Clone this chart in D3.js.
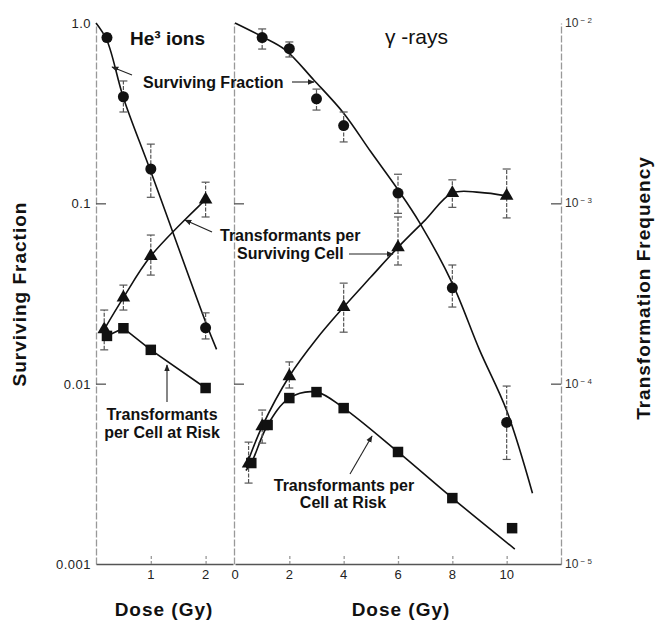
<!DOCTYPE html>
<html>
<head>
<meta charset="utf-8">
<script src="https://cdn.jsdelivr.net/npm/d3@7"></script>
<style>
body { margin: 0; background: #fff; }
svg { display: block; font-family: 'Liberation Sans', Arial, Helvetica, sans-serif; }
</style>
</head>
<body>
<svg></svg>
<script>
const width = 656;
const height = 620;

// He3 ions: surviving fraction
const heSfDose = [0.2, 0.5, 1, 2];
const heSf = [0.83, 0.39, 0.155, 0.0204];
const heSfLo = [0.79, 0.321, 0.108, 0.0177];
const heSfHi = [0.87, 0.477, 0.213, 0.0247];
const heSfFitDose = [0, 0.2, 0.5, 1, 2, 2.2];
const heSfFit = [1.0, 0.8, 0.385, 0.15, 0.022, 0.0155];

// He3 ions: transformants per surviving cell
const heTriDose = [0.15, 0.5, 1, 2];
const heTri = [2.0e-4, 3.0e-4, 5.1e-4, 1.05e-3];
const heTriLo = [1.54e-4, 2.56e-4, 4.0e-4, 8.4e-4];
const heTriHi = [2.56e-4, 3.52e-4, 6.67e-4, 1.31e-3];

// He3 ions: transformants per cell at risk
const heSqDose = [0.2, 0.5, 1, 2];
const heSq = [1.84e-4, 2.03e-4, 1.54e-4, 9.46e-5];

// gamma rays: surviving fraction
const gSfDose = [1, 2, 3, 4, 6, 8, 10];
const gSf = [0.83, 0.72, 0.38, 0.27, 0.114, 0.034, 0.0061];
const gSfLo = [0.717, 0.648, 0.329, 0.219, 0.088, 0.0266, 0.0038];
const gSfHi = [0.927, 0.785, 0.43, 0.321, 0.145, 0.0455, 0.0097];
const gSfFitDose = [0, 1, 1.85, 2.9, 4, 5, 6, 6.8, 8, 9, 10, 10.95];
const gSfFit = [1.0, 0.84, 0.71, 0.483, 0.316, 0.193, 0.119, 0.078, 0.036, 0.0154, 0.0071, 0.00247];

// gamma rays: transformants per surviving cell
const gTriDose = [0.5, 1, 2, 4, 6, 8, 10];
const gTri = [3.6e-5, 5.8e-5, 1.1e-4, 2.66e-4, 5.7e-4, 1.14e-3, 1.1e-3];
const gTriLo = [2.81e-5, 4.68e-5, 9.46e-5, 1.93e-4, 4.55e-4, 9.5e-4, 8.3e-4];
const gTriHi = [4.74e-5, 7.14e-5, 1.32e-4, 3.61e-4, 8.4e-4, 1.35e-3, 1.55e-3];
const gTriFitDose = [0.4, 1, 2, 3, 4, 5, 6, 7, 8, 9, 10];
const gTriFit = [3.45e-5, 5.8e-5, 1.1e-4, 1.77e-4, 2.66e-4, 3.9e-4, 5.7e-4, 8.07e-4, 1.14e-3, 1.15e-3, 1.1e-3];

// gamma rays: transformants per cell at risk
const gSqDose = [0.6, 1.2, 2, 3, 4, 6, 8, 10.2];
const gSq = [3.63e-5, 5.9e-5, 8.32e-5, 8.98e-5, 7.32e-5, 4.18e-5, 2.32e-5, 1.58e-5];
const gSqFitDose = [0.4, 0.6, 1.2, 2, 3, 4, 6, 8, 10.3];
const gSqFit = [3.3e-5, 3.63e-5, 5.9e-5, 8.32e-5, 8.98e-5, 7.32e-5, 4.18e-5, 2.32e-5, 1.21e-5];

// ticks
const sfTicks = [1, 0.1, 0.01, 0.001];
const sfTickLabels = ["1.0", "0.1", "0.01", "0.001"];
const tfTicks = [1e-2, 1e-3, 1e-4, 1e-5];
const tfTickExp = ["2", "3", "4", "5"];
const heDoseTicks = [1, 2];
const gDoseTicks = [0, 2, 4, 6, 8, 10];

const plotTop = 23, plotBottom = 564;

const xHe = d3.scaleLinear().domain([0, 2.5]).range([96, 233]);
const xG = d3.scaleLinear().domain([0, 12]).range([235, 561]);
const ySf = d3.scaleLog().domain([0.001, 1]).range([plotBottom, plotTop]);
const yTf = d3.scaleLog().domain([1e-5, 1e-2]).range([plotBottom, plotTop]);

const svg = d3.select('svg')
  .attr('width', width)
  .attr('height', height);

svg.append('defs').append('marker')
  .attr('id', 'arrow')
  .attr('viewBox', '0 0 10 10')
  .attr('refX', 9).attr('refY', 5)
  .attr('markerWidth', 7).attr('markerHeight', 7)
  .attr('markerUnits', 'userSpaceOnUse')
  .attr('orient', 'auto')
  .append('path')
    .attr('d', 'M0,1 L10,5 L0,9 Z')
    .attr('fill', '#222');

// axes
function styleAxis(g, dashed) {
  g.select('.domain')
    .attr('stroke', dashed ? '#999' : '#555')
    .attr('stroke-width', dashed ? 1.3 : 1.6)
    .attr('stroke-dasharray', dashed ? '7,2' : null);
  g.selectAll('.tick line').attr('stroke', '#555').attr('stroke-width', 1.3);
  g.selectAll('.tick text').remove();
}

svg.append('g')
  .attr('transform', 'translate(96,0)')
  .call(d3.axisRight(ySf).tickValues([0.1, 0.01]).tickSize(10).tickSizeOuter(0).tickFormat(''))
  .call(g => styleAxis(g, true));

svg.append('g')
  .attr('transform', 'translate(234,0)')
  .call(d3.axisRight(ySf).tickValues([0.1, 0.01]).tickSize(10).tickSizeOuter(0).tickFormat(''))
  .call(g => styleAxis(g, true));

svg.append('g')
  .attr('transform', 'translate(561,0)')
  .call(d3.axisLeft(yTf).tickValues([1e-3, 1e-4]).tickSize(10).tickSizeOuter(0).tickFormat(''))
  .call(g => styleAxis(g, true));

svg.append('g')
  .attr('transform', `translate(0,${plotBottom})`)
  .call(d3.axisTop(xHe).tickValues(heDoseTicks).tickSize(10).tickSizeOuter(0).tickFormat(''))
  .call(g => styleAxis(g, false))
  .call(g => g.selectAll('.tick line').attr('stroke', '#999').attr('stroke-dasharray', '3,2'));

svg.append('g')
  .attr('transform', `translate(0,${plotBottom})`)
  .call(d3.axisTop(xG).tickValues(gDoseTicks.slice(1)).tickSize(10).tickSizeOuter(0).tickFormat(''))
  .call(g => styleAxis(g, false))
  .call(g => g.selectAll('.tick line').attr('stroke', '#999').attr('stroke-dasharray', '3,2'));

// tick labels
svg.append('g').selectAll('text')
  .data(sfTicks)
  .enter().append('text')
    .attr('x', 91)
    .attr('y', d => ySf(d) + 5)
    .attr('text-anchor', 'end')
    .attr('font-size', 13)
    .attr('letter-spacing', 0.5)
    .attr('fill', '#222')
    .text((d, i) => sfTickLabels[i]);

const tfLabels = svg.append('g').selectAll('text')
  .data(tfTicks)
  .enter().append('text')
    .attr('x', 565)
    .attr('y', d => yTf(d) + 4)
    .attr('font-size', 12)
    .attr('fill', '#333');
tfLabels.append('tspan').text('10');
tfLabels.append('tspan')
  .attr('font-size', 8)
  .attr('dy', -4)
  .text((d, i) => ' \u2212 ' + tfTickExp[i]);

svg.append('g').selectAll('text')
  .data(heDoseTicks)
  .enter().append('text')
    .attr('x', d => xHe(d))
    .attr('y', 579)
    .attr('text-anchor', 'middle')
    .attr('font-size', 13)
    .attr('fill', '#222')
    .text(d => d);

svg.append('g').selectAll('text')
  .data(gDoseTicks)
  .enter().append('text')
    .attr('x', d => xG(d))
    .attr('y', 579)
    .attr('text-anchor', 'middle')
    .attr('font-size', 13)
    .attr('fill', '#222')
    .text(d => d);

// axis titles
svg.append('text')
  .attr('transform', 'translate(26,294) rotate(-90)')
  .attr('text-anchor', 'middle')
  .attr('font-size', 19).attr('font-weight', 'bold').attr('letter-spacing', 1)
  .attr('fill', '#111')
  .text('Surviving Fraction');

svg.append('text')
  .attr('transform', 'translate(650,288) rotate(-90)')
  .attr('text-anchor', 'middle')
  .attr('font-size', 19).attr('font-weight', 'bold').attr('letter-spacing', 1)
  .attr('fill', '#111')
  .text('Transformation Frequency');

[[164, xHe], [401, xG]].forEach(([cx]) => {
  svg.append('text')
    .attr('x', cx).attr('y', 616)
    .attr('text-anchor', 'middle')
    .attr('font-size', 19).attr('font-weight', 'bold').attr('letter-spacing', 1)
    .attr('fill', '#111')
    .text('Dose (Gy)');
});

// curves
function zip(xs, ys) { return xs.map((x, i) => [x, ys[i]]); }

function drawCurve(xScale, yScale, xs, ys, curve) {
  const line = d3.line()
    .x(d => xScale(d[0]))
    .y(d => yScale(d[1]))
    .curve(curve);
  svg.append('path')
    .datum(zip(xs, ys))
    .attr('d', line)
    .attr('fill', 'none')
    .attr('stroke', '#111')
    .attr('stroke-width', 1.6);
}

const smooth = d3.curveCatmullRom.alpha(0.5);
drawCurve(xHe, ySf, heSfFitDose, heSfFit, smooth);
drawCurve(xHe, yTf, heTriDose, heTri, smooth);
drawCurve(xHe, yTf, heSqDose, heSq, d3.curveLinear);
drawCurve(xG, ySf, gSfFitDose, gSfFit, smooth);
drawCurve(xG, yTf, gTriFitDose, gTriFit, smooth);
drawCurve(xG, yTf, gSqFitDose, gSqFit, smooth);

// error bars
function drawErrors(xScale, yScale, xs, lo, hi) {
  const g = svg.append('g')
    .attr('stroke', '#555')
    .attr('stroke-width', 1.2);
  xs.forEach((x, i) => {
    const px = xScale(x);
    g.append('line')
      .attr('x1', px).attr('x2', px)
      .attr('y1', yScale(lo[i])).attr('y2', yScale(hi[i]))
      .attr('stroke-dasharray', '4,1.5');
    [lo[i], hi[i]].forEach(v => {
      g.append('line')
        .attr('x1', px - 4).attr('x2', px + 4)
        .attr('y1', yScale(v)).attr('y2', yScale(v));
    });
  });
}

drawErrors(xHe, ySf, heSfDose, heSfLo, heSfHi);
drawErrors(xHe, yTf, heTriDose, heTriLo, heTriHi);
drawErrors(xG, ySf, gSfDose, gSfLo, gSfHi);
drawErrors(xG, yTf, gTriDose, gTriLo, gTriHi);

// markers
function drawMarkers(xScale, yScale, xs, ys, type, size) {
  const sym = d3.symbol().type(type).size(size);
  svg.append('g').selectAll('path')
    .data(zip(xs, ys))
    .enter().append('path')
      .attr('d', sym)
      .attr('transform', d => `translate(${xScale(d[0])},${yScale(d[1])})`)
      .attr('fill', '#111');
}

drawMarkers(xHe, ySf, heSfDose, heSf, d3.symbolCircle, 95);
drawMarkers(xHe, yTf, heTriDose, heTri, d3.symbolTriangle, 80);
drawMarkers(xHe, yTf, heSqDose, heSq, d3.symbolSquare, 110);
drawMarkers(xG, ySf, gSfDose, gSf, d3.symbolCircle, 95);
drawMarkers(xG, yTf, gTriDose, gTri, d3.symbolTriangle, 80);
drawMarkers(xG, yTf, gSqDose, gSq, d3.symbolSquare, 110);

// panel labels and annotations
function label(x, y, txt, size, weight, anchor) {
  svg.append('text')
    .attr('x', x).attr('y', y)
    .attr('text-anchor', anchor || 'start')
    .attr('font-size', size)
    .attr('font-weight', weight)
    .attr('fill', '#111')
    .text(txt);
}

function arrow(x1, y1, x2, y2) {
  svg.append('line')
    .attr('x1', x1).attr('y1', y1)
    .attr('x2', x2).attr('y2', y2)
    .attr('stroke', '#222')
    .attr('stroke-width', 1.1)
    .attr('marker-end', 'url(#arrow)');
}

label(130, 45, 'He\u00b3 ions', 19, 'bold');
label(385, 44, '\u03b3 -rays', 21, 'normal');

label(143, 88, 'Surviving Fraction', 16, 'bold');
arrow(292, 82, 314, 82);
arrow(132, 75, 112, 67);

label(220, 241, 'Transformants per', 16, 'bold');
label(237, 259, 'Surviving Cell', 16, 'bold');
arrow(349, 254, 393, 254);
arrow(212, 232, 185, 220);

label(162, 420, 'Transformants', 16, 'bold', 'middle');
label(162, 438, 'per Cell at Risk', 16, 'bold', 'middle');
arrow(167, 402, 167, 365);

label(344, 491, 'Transformants per', 16, 'bold', 'middle');
label(343, 508, 'Cell at Risk', 16, 'bold', 'middle');
arrow(350, 474, 372, 436);
</script>
</body>
</html>
